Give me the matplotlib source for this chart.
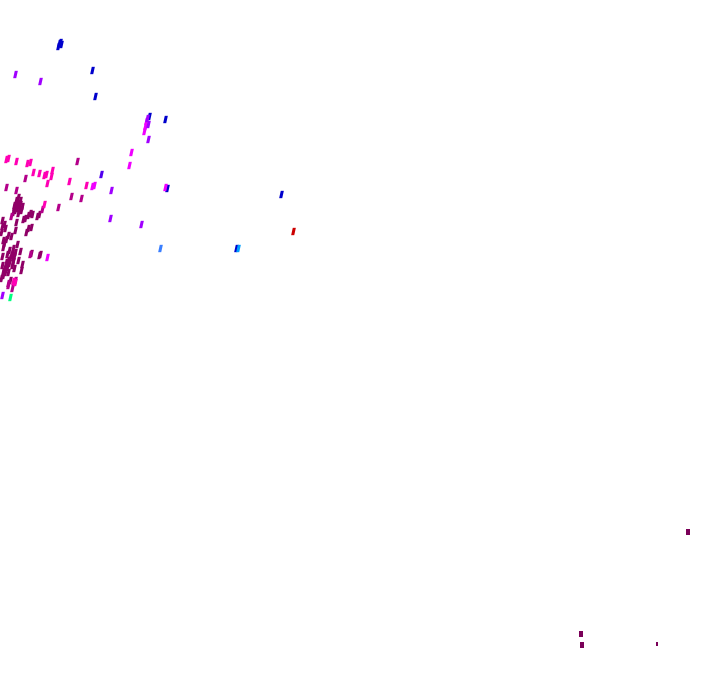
import matplotlib
matplotlib.use("Agg")
import matplotlib.pyplot as plt

# values, one pair of lists per colour
crimson_x = [18, 14, 17, 20, 15, 19, 16, 20, 17, 22, 13, 21, 14, 18, 30, 28, 32, 37, 39, 23, 25, 2, 4, 5, 15, 26, 28, 31, 8, 3, 3, 17, 13, 20, 31, 39, 40,
             7, 13, 10, 13, 22, 21, 14, 7, 2, 3, 10, 3, 6, 5, 9, 12, 2, 11, 16, 18, 1, 4, 2, 6, 9, 15, 12, 5, 1, 8, 11, 14, 8, 4]
crimson_y = [197, 205, 204, 204, 210, 210, 200, 200, 208, 206, 212, 210, 207, 213, 213, 215, 214, 216, 214, 219, 218, 220, 224, 228, 230, 232, 228, 227, 235, 240, 247,
             244, 248, 251, 253, 255, 254, 254, 257, 258, 261, 264, 270, 268, 267, 265, 275, 280, 271, 262, 272, 263,
             253, 226, 236, 222, 260, 232, 243, 256, 239, 250, 252, 265, 268, 278, 272, 255, 256, 260, 269]
plum_x = [25, 6, 16, 77, 71, 81, 58, 42, 11, 8, 15, 30, 8, 12]
plum_y = [178, 187, 190, 161, 196, 198, 207, 209, 216, 285, 280, 254, 283, 288]
pink_x = [6, 8, 16, 27, 30, 33, 39, 44, 46, 52, 51, 47, 69, 86, 44, 15, 13]
pink_y = [159, 158, 161, 163, 162, 172, 173, 175, 174, 170, 176, 183, 181, 185, 204, 282, 281]
magenta_x = [92, 94, 165, 146, 145, 144, 131, 129, 47]
magenta_y = [186, 185, 187, 121, 126, 131, 152, 165, 257]
blue_x = [59, 61, 58, 60, 92, 95, 165, 167, 281, 149, 236]
blue_y = [43, 44, 46, 42, 70, 96, 119, 188, 194, 116, 248]
violet_x = [15, 40, 147, 148, 148, 111, 110, 141, 2]
violet_y = [74, 81, 118, 124, 139, 190, 218, 224, 295]
indigo_x = [101]
indigo_y = [174]
red_x = [293]
red_y = [231]
azure_x = [160]
azure_y = [248]
sky_x = [238]
sky_y = [248]
green_x = [10]
green_y = [297]
dark_x = [688, 581, 582]
dark_y = [532, 634, 645]
thin_x = [657]
thin_y = [644]

groups = [
    (crimson_x, crimson_y, "#8f0066"),
    (plum_x, plum_y, "#b4008a"),
    (pink_x, pink_y, "#ff00b4"),
    (blue_x, blue_y, "#0000cc"),
    (magenta_x, magenta_y, "#f000ff"),
    (violet_x, violet_y, "#a000ff"),
    (indigo_x, indigo_y, "#5000ee"),
    (red_x, red_y, "#cc0000"),
    (azure_x, azure_y, "#3a7fff"),
    (sky_x, sky_y, "#00a0ff"),
    (green_x, green_y, "#00ff80"),
]

slant = [(-0.32, -0.5), (0.1, -0.5), (0.32, 0.5), (-0.1, 0.5)]
bar = [(-0.3, -0.5), (0.3, -0.5), (0.3, 0.5), (-0.3, 0.5)]
sliver = [(-0.15, -0.5), (0.15, -0.5), (0.15, 0.5), (-0.15, 0.5)]

fig = plt.figure(figsize=(7.2, 6.92), dpi=100)
ax = fig.add_axes([0, 0, 1, 1])
ax.set_xlim(0, 720)
ax.set_ylim(692, 0)
ax.axis("off")

for xs, ys, col in groups:
    ax.scatter(xs, ys, marker=slant, s=28, c=col, linewidths=0, antialiased=False)

ax.scatter(dark_x, dark_y, marker=bar, s=14, c="#7a0058", linewidths=0, antialiased=False)
ax.scatter(thin_x, thin_y, marker=sliver, s=9, c="#7a0058", linewidths=0, antialiased=False)

fig.savefig("out.png", dpi=100, facecolor="white")
